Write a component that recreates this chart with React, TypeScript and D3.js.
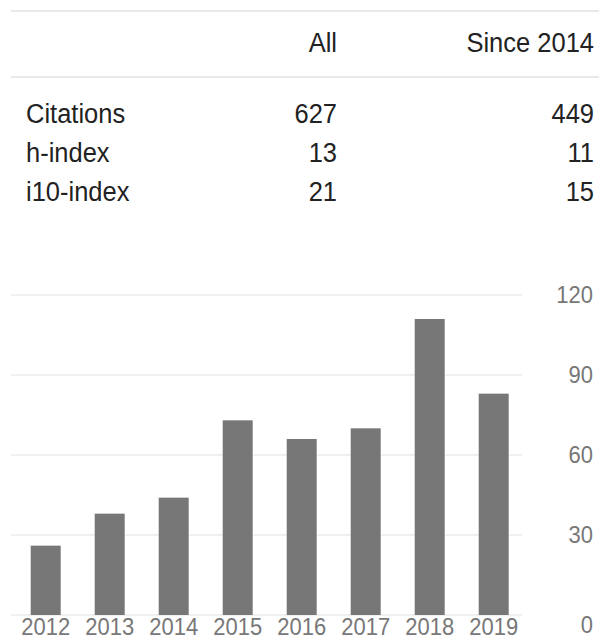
import * as d3 from 'd3';
import React from 'react';

// citation table
const rowLabels = ['Citations', 'h-index', 'i10-index'];
const allValues = [627, 13, 21];
const sinceValues = [449, 11, 15];
const columnHeaders = ['All', 'Since 2014'];

// citations per year
const years = ['2012', '2013', '2014', '2015', '2016', '2017', '2018', '2019'];
const counts = [26, 38, 44, 73, 66, 70, 111, 83];
const yTicks = [0, 30, 60, 90, 120];

const width = 599;
const height = 639;
const font = "Arial, 'Liberation Sans', sans-serif";

// text slightly taller than wide, like the screenshot
const Label = ({ x, y, anchor = 'end', stretch = 1.1, baseline, children }: any) => (
  <text
    transform={`translate(${x},${y}) scale(1,${stretch})`}
    textAnchor={anchor}
    dominantBaseline={baseline}
  >
    {children}
  </text>
);

const App = () => {
  // chart scales
  const xScale = d3
    .scaleBand<string>()
    .domain(years)
    .range([13.7, 13.7 + 64 * years.length])
    .paddingInner(34 / 64)
    .paddingOuter(17 / 64);

  const yScale = d3.scaleLinear().domain([0, 120]).range([615, 295]);

  const rowY = d3.scalePoint<string>().domain(rowLabels).range([123, 201]);

  return (
    <svg
      width={width}
      height={height}
      style={{ position: 'absolute', left: 0, top: 0, background: 'white' }}
      fontFamily={font}
    >
      {/* table rules */}
      <line x1={11} x2={width} y1={11} y2={11} stroke="#e8e8e8" strokeWidth={2} />
      <line x1={11} x2={width} y1={77} y2={77} stroke="#e8e8e8" strokeWidth={2} />

      <g fontSize={25.5} fill="#222">
        <Label x={337} y={52} stretch={1.1}>{columnHeaders[0]}</Label>
        <Label x={594} y={52} stretch={1.1}>{columnHeaders[1]}</Label>
        {rowLabels.map((label, i) => (
          <g key={label}>
            <Label x={26} y={rowY(label)} anchor="start" stretch={1.05}>{label}</Label>
            <Label x={337} y={rowY(label)} stretch={1.05}>{allValues[i]}</Label>
            <Label x={594} y={rowY(label)} stretch={1.05}>{sinceValues[i]}</Label>
          </g>
        ))}
      </g>

      {/* gridlines */}
      {yTicks.map((t) => (
        <line
          key={t}
          x1={11}
          x2={522}
          y1={yScale(t)}
          y2={yScale(t)}
          stroke="#ebebeb"
          strokeWidth={1.5}
        />
      ))}

      {/* bars */}
      {years.map((yr, i) => (
        <rect
          key={yr}
          x={xScale(yr)}
          y={yScale(counts[i])}
          width={xScale.bandwidth()}
          height={yScale(0) - yScale(counts[i])}
          fill="#777"
        />
      ))}

      {/* year labels */}
      <g fontSize={22} fill="#777">
        {years.map((yr) => (
          <Label
            key={yr}
            x={(xScale(yr) ?? 0) + xScale.bandwidth() / 2}
            y={635}
            anchor="middle"
            stretch={1.08}
          >
            {yr}
          </Label>
        ))}
      </g>

      {/* y tick labels on the right */}
      <g fontSize={22} fill="#777">
        {yTicks.map((t) => (
          <Label
            key={t}
            x={593}
            y={yScale(t) + (t === 0 ? 10 : 0)}
            baseline="central"
            stretch={1.12}
          >
            {t}
          </Label>
        ))}
      </g>
    </svg>
  );
};

export default App;
